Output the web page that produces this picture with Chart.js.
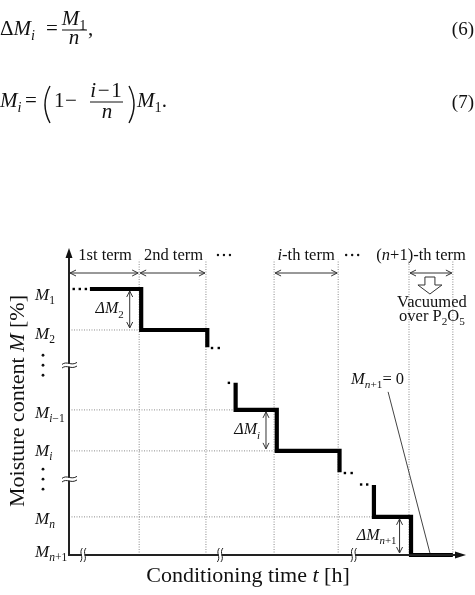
<!DOCTYPE html>
<html>
<head>
<meta charset="utf-8">
<script src="https://cdn.jsdelivr.net/npm/chart.js@4.4.1/dist/chart.umd.min.js"></script>
<style>
  html, body { margin: 0; padding: 0; background: #fff; }
  canvas { display: block; }
</style>
</head>
<body>
<canvas id="diagram" width="475" height="595"></canvas>
<script>
// schematic units: one conditioning term ~ 1 on t, one moisture step ~ 1 on M
var termBounds = [0, 1.04, 2.03, 3.04, 3.99, 5.04, 5.69];
var levelValues = [6.49, 5.49, 3.54, 2.54, 0.93, 0];        // M1, M2, Mi-1, Mi, Mn, Mn+1
var gridEnds = [1.07, 2.47, 3.08, 4.52];                      // dotted lines for M2, Mi-1, Mi, Mn
var breakLevels = [4.63, 1.85];
var breakTimes = [0.21, 2.24, 4.22];

var stepA_t = [0.31, 1.07, 1.07, 2.05, 2.05];
var stepA_m = [6.49, 6.49, 5.49, 5.49, 5.07];
var stepB_t = [2.47, 2.47, 3.08, 3.08, 4.01, 4.01];
var stepB_m = [4.20, 3.54, 3.54, 2.54, 2.54, 2.02];
var stepC_t = [4.52, 4.52, 5.07, 5.07, 5.69];
var stepC_m = [1.71, 0.93, 0.93, 0, 0];

var dot_t = [0.07, 0.16, 0.25, 2.12, 2.22, 2.37, 4.09, 4.19, 4.33, 4.42];
var dot_m = [6.49, 6.49, 6.49, 5.05, 5.05, 4.20, 2.00, 2.00, 1.72, 1.72];

var diag_t = [4.73, 5.35];
var diag_m = [3.98, 0.05];

var delta_t = [0.90, 2.92, 4.90];
var delta_from = [6.49, 3.54, 0.93];
var delta_to = [5.49, 2.54, 0];

var termArrowM = 6.88;
var gridTopM = 7.2;

var SERIF = '"Liberation Serif", "Times New Roman", serif';

function pts(ts, ms) {
  return ts.map(function (t, k) { return {x: t, y: ms[k]}; });
}

function font(size, italic) {
  return (italic ? 'italic ' : '') + size + 'px ' + SERIF;
}

// parts: [text, kind] kind r = roman, i = italic, s = roman sub, si = italic sub
function rich(ctx, parts, x, y, size, align) {
  var sub = size * 0.68;
  var widths = parts.map(function (p) {
    var sz = p[1].charAt(0) === 's' ? sub : size;
    ctx.font = font(sz, p[1].indexOf('i') >= 0);
    return ctx.measureText(p[0]).width;
  });
  var total = widths.reduce(function (a, b) { return a + b; }, 0);
  var cx = x;
  if (align === 'center') cx = x - total / 2;
  if (align === 'right') cx = x - total;
  ctx.textAlign = 'left';
  ctx.textBaseline = 'alphabetic';
  parts.forEach(function (p, k) {
    var isSub = p[1].charAt(0) === 's';
    ctx.font = font(isSub ? sub : size, p[1].indexOf('i') >= 0);
    ctx.fillText(p[0], cx, isSub ? y + size * 0.26 : y);
    cx += widths[k];
  });
  return total;
}

function line(ctx, x1, y1, x2, y2) {
  ctx.beginPath();
  ctx.moveTo(x1, y1);
  ctx.lineTo(x2, y2);
  ctx.stroke();
}

function chevron(ctx, x, y, dx, dy) {
  // open arrow head pointing along (dx, dy)
  var len = 6, half = 3;
  var nx = -dy, ny = dx;
  ctx.beginPath();
  ctx.moveTo(x - dx * len + nx * half, y - dy * len + ny * half);
  ctx.lineTo(x, y);
  ctx.lineTo(x - dx * len - nx * half, y - dy * len - ny * half);
  ctx.stroke();
}

var datasets = [];

// dotted grid
termBounds.slice(1).forEach(function (b) {
  datasets.push({data: pts([b, b], [0, gridTopM])});
});
gridEnds.forEach(function (e, k) {
  var lv = levelValues[k + 1];
  datasets.push({data: pts([0, e], [lv, lv])});
});
datasets.forEach(function (d) {
  d.showLine = true;
  d.borderColor = '#8a8a8a';
  d.borderWidth = 1;
  d.borderDash = [1, 1.5];
  d.pointRadius = 0;
  d.clip = false;
  d.order = 5;
});

datasets.push({
  data: pts(diag_t, diag_m), showLine: true, borderColor: '#444', borderWidth: 1,
  pointRadius: 0, clip: false, order: 4
});

[[stepA_t, stepA_m], [stepB_t, stepB_m], [stepC_t, stepC_m]].forEach(function (s) {
  datasets.push({
    data: pts(s[0], s[1]), showLine: true, borderColor: '#000', borderWidth: 4.2,
    borderJoinStyle: 'miter', borderCapStyle: 'butt', pointRadius: 0, clip: false, order: 2
  });
});

datasets.push({
  data: pts(dot_t, dot_m), showLine: false, pointStyle: 'rect', pointRadius: 1.7,
  backgroundColor: '#000', borderWidth: 0, clip: false, order: 1
});

var drawing = {
  id: 'drawing',
  afterDatasetsDraw: function (chart) {
    var ctx = chart.ctx;
    var xs = chart.scales.x, ys = chart.scales.y;
    var px = function (t) { return xs.getPixelForValue(t); };
    var py = function (m) { return ys.getPixelForValue(m); };
    var x0 = px(0), y0 = py(0);
    ctx.save();
    ctx.fillStyle = '#111';
    ctx.strokeStyle = '#222';

    // axes with arrow heads
    ctx.lineWidth = 2;
    line(ctx, x0, y0, x0, chart.chartArea.top + 8);
    line(ctx, x0 - 1, y0, chart.chartArea.right - 8, y0);
    ctx.beginPath();
    ctx.moveTo(x0, chart.chartArea.top);
    ctx.lineTo(x0 - 3.5, chart.chartArea.top + 10);
    ctx.lineTo(x0 + 3.5, chart.chartArea.top + 10);
    ctx.closePath();
    ctx.fill();
    ctx.beginPath();
    ctx.moveTo(chart.chartArea.right + 1, y0);
    ctx.lineTo(chart.chartArea.right - 10, y0 - 3.5);
    ctx.lineTo(chart.chartArea.right - 10, y0 + 3.5);
    ctx.closePath();
    ctx.fill();

    // axis breaks
    ctx.lineWidth = 1;
    breakLevels.forEach(function (m) {
      var y = py(m);
      ctx.fillStyle = '#fff';
      ctx.fillRect(x0 - 3, y - 1.5, 6, 3);
      [-1.8, 1.8].forEach(function (o) {
        ctx.beginPath();
        ctx.moveTo(x0 - 7, y + o + 1);
        ctx.bezierCurveTo(x0 - 2, y + o - 3, x0 + 2, y + o + 3, x0 + 8, y + o - 1);
        ctx.stroke();
      });
    });
    breakTimes.forEach(function (t) {
      var x = px(t);
      ctx.fillStyle = '#fff';
      ctx.fillRect(x - 1.5, y0 - 2, 3, 4);
      [-1.8, 1.8].forEach(function (o) {
        ctx.beginPath();
        ctx.moveTo(x + o + 1, y0 - 7);
        ctx.bezierCurveTo(x + o - 3, y0 - 2, x + o + 3, y0 + 2, x + o - 1, y0 + 7);
        ctx.stroke();
      });
    });
    ctx.fillStyle = '#111';

    // term arrows
    ctx.strokeStyle = '#333';
    ctx.lineWidth = 1;
    var ya = py(termArrowM);
    [[0, 1], [1, 2], [3, 4], [5, 6]].forEach(function (p) {
      var a = px(termBounds[p[0]]) + 1, b = px(termBounds[p[1]]) - 1;
      line(ctx, a, ya, b, ya);
      chevron(ctx, a, ya, -1, 0);
      chevron(ctx, b, ya, 1, 0);
    });

    // delta M arrows
    delta_t.forEach(function (t, k) {
      var x = px(t), a = py(delta_from[k]) + 2, b = py(delta_to[k]) - 2;
      line(ctx, x, a, x, b);
      chevron(ctx, x, a, 0, -1);
      chevron(ctx, x, b, 0, 1);
    });

    // term labels
    var yt = 260;
    rich(ctx, [['1st term', 'r']], (px(termBounds[0]) + px(termBounds[1])) / 2 + 1, yt, 16.5, 'center');
    rich(ctx, [['2nd term', 'r']], (px(termBounds[1]) + px(termBounds[2])) / 2 + 1, yt, 16.5, 'center');
    rich(ctx, [['i', 'i'], ['-th term', 'r']], (px(termBounds[3]) + px(termBounds[4])) / 2, yt, 16.5, 'center');
    rich(ctx, [['(', 'r'], ['n', 'i'], ['+1)-th term', 'r']], px(termBounds[6]) + 13, yt, 16.5, 'right');
    [px(termBounds[2]) + 18, px(termBounds[4]) + 14].forEach(function (cx) {
      [-6, 0, 6].forEach(function (o) {
        ctx.beginPath();
        ctx.arc(cx + o, yt - 5, 1.2, 0, Math.PI * 2);
        ctx.fill();
      });
    });

    // vacuum arrow and note
    var vx = (px(termBounds[5]) + px(termBounds[6])) / 2 - 1;
    ctx.lineWidth = 1;
    ctx.beginPath();
    ctx.moveTo(vx - 5, 277);
    ctx.lineTo(vx + 5, 277);
    ctx.lineTo(vx + 5, 285);
    ctx.lineTo(vx + 12, 285);
    ctx.lineTo(vx, 294);
    ctx.lineTo(vx - 12, 285);
    ctx.lineTo(vx - 5, 285);
    ctx.closePath();
    ctx.stroke();
    rich(ctx, [['Vacuumed', 'r']], vx + 2, 307, 16.5, 'center');
    rich(ctx, [['over P', 'r'], ['2', 's'], ['O', 'r'], ['5', 's']], vx + 2, 321, 16.5, 'center');

    // y labels
    var names = [
      [['M', 'i'], ['1', 's']],
      [['M', 'i'], ['2', 's']],
      [['M', 'i'], ['i', 'si'], ['\u22121', 's']],
      [['M', 'i'], ['i', 'si']],
      [['M', 'i'], ['n', 'si']],
      [['M', 'i'], ['n', 'si'], ['+1', 's']]
    ];
    var labelDy = [11, 9, 8, 5, 7, 2];
    levelValues.forEach(function (m, k) {
      rich(ctx, names[k], 35, py(m) + labelDy[k], 17, 'left');
    });
    breakLevels.forEach(function (m) {
      [-10, 0, 10].forEach(function (o) {
        ctx.beginPath();
        ctx.arc(43, py(m) + o, 1.4, 0, Math.PI * 2);
        ctx.fill();
      });
    });

    // delta labels
    var dl = [
      [['\u0394M', 'i'], ['2', 's']],
      [['\u0394M', 'i'], ['i', 'si']],
      [['\u0394M', 'i'], ['n', 'si'], ['+1', 's']]
    ];
    var dGap = [6, 6, 3];
    delta_t.forEach(function (t, k) {
      var mid = (py(delta_from[k]) + py(delta_to[k])) / 2;
      rich(ctx, dl[k], px(t) - dGap[k], mid + 4, 16, 'right');
    });

    // M_{n+1} = 0 note
    rich(ctx, [['M', 'i'], ['n', 'si'], ['+1', 's'], ['= 0', 'r']],
      px(diag_t[0]) - 37, py(diag_m[0]) - 8, 16.5, 'left');

    // axis titles
    rich(ctx, [['Conditioning time ', 'r'], ['t', 'i'], [' [h]', 'r']], 248, 582, 22, 'center');
    ctx.save();
    ctx.translate(24, 401);
    ctx.rotate(-Math.PI / 2);
    rich(ctx, [['Moisture content ', 'r'], ['M', 'i'], [' [%]', 'r']], 0, 0, 22, 'center');
    ctx.restore();

    ctx.restore();
  },
  afterDraw: function (chart) {
    var ctx = chart.ctx;
    ctx.save();
    ctx.fillStyle = '#111';
    ctx.strokeStyle = '#111';
    ctx.lineWidth = 1;
    var s = 21;

    // (6)
    rich(ctx, [['\u0394', 'r'], ['M', 'i'], ['i', 'si']], 0, 35, s, 'left');
    rich(ctx, [['=', 'r']], 46, 35, s, 'left');
    rich(ctx, [['M', 'i'], ['1', 's']], 74, 25, s, 'center');
    line(ctx, 62, 30, 87, 30);
    rich(ctx, [['n', 'i']], 74, 44, s, 'center');
    rich(ctx, [[',', 'r']], 88, 35, s, 'left');
    rich(ctx, [['(6)', 'r']], 474, 35, 19, 'right');

    // (7)
    rich(ctx, [['M', 'i'], ['i', 'si']], 0, 107, s, 'left');
    rich(ctx, [['=', 'r']], 25, 107, s, 'left');
    rich(ctx, [['1', 'r']], 54, 107, s, 'left');
    rich(ctx, [['\u2212', 'r']], 65, 107, s, 'left');
    rich(ctx, [['i', 'i'], ['\u200a\u2212\u200a1', 'r']], 106, 97, s, 'center');
    line(ctx, 90, 102, 123, 102);
    rich(ctx, [['n', 'i']], 107, 118, s, 'center');
    rich(ctx, [['M', 'i'], ['1', 's'], ['.', 'r']], 137, 107, s, 'left');
    rich(ctx, [['(7)', 'r']], 474, 108, 19, 'right');

    // tall brackets round the fraction
    ctx.lineWidth = 1.4;
    ctx.beginPath();
    ctx.moveTo(50, 86);
    ctx.quadraticCurveTo(40, 104.5, 50, 123);
    ctx.stroke();
    ctx.beginPath();
    ctx.moveTo(129, 86);
    ctx.quadraticCurveTo(139, 104.5, 129, 123);
    ctx.stroke();

    ctx.restore();
  }
};

new Chart(document.getElementById('diagram'), {
  type: 'scatter',
  data: {datasets: datasets},
  options: {
    responsive: false,
    animation: false,
    layout: {padding: {left: 69, top: 248, right: 10, bottom: 40}},
    scales: {
      x: {type: 'linear', min: 0, max: 5.87, display: false},
      y: {type: 'linear', min: 0, max: 7.49, display: false}
    },
    plugins: {
      legend: {display: false},
      tooltip: {enabled: false}
    }
  },
  plugins: [drawing]
});
</script>
</body>
</html>
